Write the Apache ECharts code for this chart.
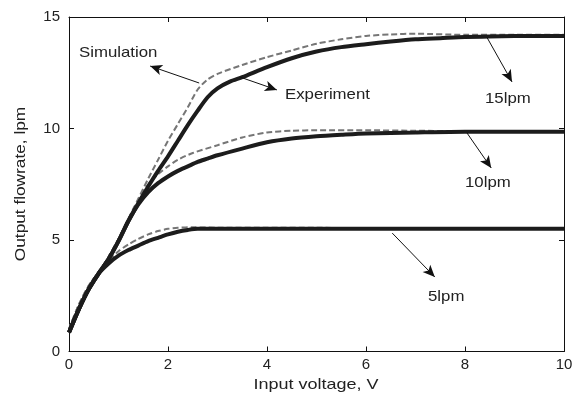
<!DOCTYPE html>
<html><head><meta charset="utf-8">
<script src="https://cdn.jsdelivr.net/npm/echarts@6/dist/echarts.min.js"></script>
<style>html,body{margin:0;padding:0;background:#fff}#c{width:578px;height:393px}</style>
</head><body><div id="c"></div>
<script>
// Simulation (dashed) curves
var simX15 = [0,0.2,0.4,0.6,0.8,1.0,1.2,1.4,1.6,1.8,2.0,2.2,2.4,2.6,2.8,3.0,3.5,4.0,4.5,5.0,5.5,6.0,6.5,7,8,9,10];
var simY15 = [1.0,2.1,2.95,3.55,4.25,5.05,5.95,6.85,7.75,8.6,9.45,10.2,10.95,11.75,12.2,12.45,12.85,13.2,13.5,13.8,14.0,14.15,14.22,14.25,14.2,14.2,14.2];
var simX10 = [0,0.2,0.4,0.6,0.8,1.0,1.2,1.4,1.6,1.8,2.0,2.2,2.5,3.0,3.5,4.0,4.5,5.0,6,7,8,9,10];
var simY10 = [1.0,2.1,2.95,3.55,4.25,5.05,5.95,6.8,7.5,7.95,8.3,8.6,8.9,9.25,9.6,9.82,9.9,9.92,9.92,9.9,9.88,9.88,9.88];
var simX5 = [0,0.2,0.4,0.6,0.8,1.0,1.2,1.4,1.6,1.8,2.0,2.2,2.5,3,4,5,6,7,8,9,10];
var simY5 = [1.0,2.1,2.95,3.55,4.05,4.5,4.8,5.05,5.25,5.4,5.5,5.55,5.57,5.55,5.55,5.55,5.52,5.52,5.5,5.5,5.5];
// Experiment (noisy) curves
var expX15 = [0,0.2,0.4,0.6,0.8,1.0,1.2,1.4,1.6,1.8,2.0,2.2,2.4,2.6,2.8,3.0,3.25,3.5,4.0,4.5,5.0,5.5,6.0,6.5,7,7.5,8,9,10];
var expY15 = [0.85,1.9,2.8,3.5,4.15,4.95,5.85,6.65,7.4,8.1,8.75,9.45,10.15,10.8,11.4,11.8,12.1,12.3,12.75,13.15,13.45,13.65,13.78,13.9,14.0,14.05,14.1,14.15,14.15];
var expX10 = [0,0.2,0.4,0.6,0.8,1.0,1.2,1.4,1.6,1.8,2.0,2.2,2.4,2.6,2.8,3.0,3.5,4.0,4.5,5.0,5.5,6.0,7,8,9,10];
var expY10 = [0.85,1.9,2.8,3.5,4.15,4.95,5.85,6.6,7.15,7.55,7.85,8.1,8.3,8.5,8.65,8.8,9.1,9.38,9.55,9.65,9.72,9.78,9.82,9.85,9.85,9.85];
var expX5 = [0,0.2,0.4,0.6,0.8,1.0,1.2,1.4,1.6,1.8,2.0,2.2,2.4,2.6,3,4,5,6,7,8,9,10];
var expY5 = [0.85,1.9,2.8,3.5,3.95,4.3,4.55,4.75,4.95,5.1,5.25,5.37,5.45,5.5,5.5,5.5,5.5,5.5,5.5,5.5,5.5,5.5];
var xTicks = [0,2,4,6,8,10];
var yTicks = [0,5,10,15];
// annotation arrows [fromX, fromY, toX, toY]
var arrows = [[2.63,12.04,1.64,12.80],[3.45,12.31,4.20,11.73],[8.44,14.10,8.95,12.09],[8.04,9.80,8.53,8.23],[6.53,5.31,7.39,3.34]];

function pairs(xs, ys){ return xs.map(function(x,i){return [x, ys[i]];}); }
var font = 'Liberation Sans, Arial, sans-serif';
var chart = echarts.init(document.getElementById('c'), null, {renderer:'canvas'});
function axisBase(){
  return {type:'value', axisLine:{show:true, onZero:false, lineStyle:{color:'#111', width:1}},
    axisTick:{show:true, inside:true, length:5, lineStyle:{color:'#111'}}, splitLine:{show:false}};
}
var simStyle = {type:'line', showSymbol:false, smooth:0.25, lineStyle:{color:'#767676', width:2, type:[6,3]}, z:2, silent:true};
var expStyle = {type:'line', showSymbol:false, smooth:0.25, lineStyle:{color:'#1c1c1c', width:4}, z:3, silent:true};
function mk(base, data){ var o = Object.assign({}, base); o.data = data; return o; }
var series = [
  mk(expStyle, pairs(expX15, expY15)),
  mk(expStyle, pairs(expX10, expY10)),
  mk(expStyle, pairs(expX5, expY5)),
  mk(simStyle, pairs(simX15, simY15)),
  mk(simStyle, pairs(simX10, simY10)),
  mk(simStyle, pairs(simX5, simY5))
];
series.push({type:'line', data:[], silent:true, z:5,
  markLine:{silent:true, animation:false, label:{show:false},
    lineStyle:{color:'#111', width:1, type:'solid'},
    data: arrows.map(function(a){ return [{coord:[a[0],a[1]], symbol:'none'},{coord:[a[2],a[3]], symbol:'arrow', symbolSize:[8,12]}]; })}});
var xa = axisBase();
Object.assign(xa, {min:0, max:10, interval:2, position:'bottom',
  axisLabel:{fontFamily:font, fontSize:15, color:'#222', margin:6, formatter:function(v){return xTicks.indexOf(v)>=0? String(v):'';}}});
var xt = axisBase(); Object.assign(xt, {min:0, max:10, interval:2, position:'top', axisLabel:{show:false}});
var ya = axisBase();
Object.assign(ya, {min:0, max:15, interval:5, position:'left',
  axisLabel:{fontFamily:font, fontSize:15, color:'#222', margin:9, formatter:function(v){return yTicks.indexOf(v)>=0? String(v):'';}}});
var yr = axisBase(); Object.assign(yr, {min:0, max:15, interval:5, position:'right', axisLabel:{show:false}});
function txt(s, x, y, opt){
  var o = {type:'text', x:x, y:y, scaleX:1.12, silent:true,
    style:{text:s, font:'15px ' + font, fill:'#222', textAlign:'left', textVerticalAlign:'middle'}};
  if (opt) { for (var k in opt) { if (k==='style') Object.assign(o.style, opt.style); else o[k]=opt[k]; } }
  return o;
}
chart.setOption({
  animation:false,
  grid:{left:69, right:14, top:17, bottom:41.5},
  xAxis:[xa, xt],
  yAxis:[ya, yr],
  series:series,
  graphic:[
    txt('Simulation',79,53), txt('Experiment',285,95), txt('15lpm',485,99), txt('10lpm',465,183), txt('5lpm',428,297),
    txt('Input voltage, V',316,385,{scaleX:1.2, style:{textAlign:'center'}}),
    txt('Output flowrate, lpm',21,184,{rotation:Math.PI/2, scaleX:1.15, style:{textAlign:'center'}})
  ]
});
</script></body></html>
